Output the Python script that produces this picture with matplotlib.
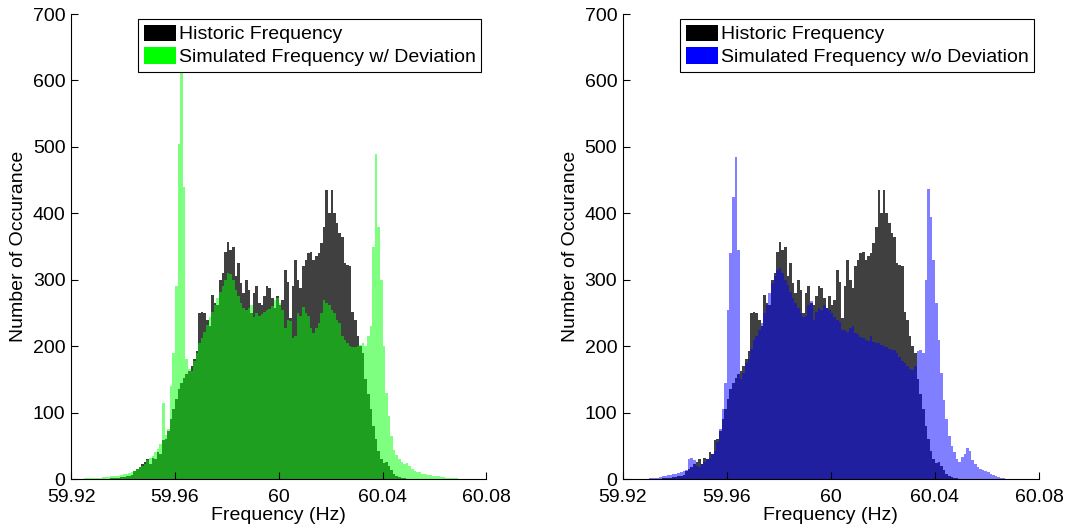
#!/usr/bin/env python3

import numpy as np
import matplotlib
matplotlib.use("Agg")
import matplotlib.pyplot as plt
from matplotlib.patches import Patch

plt.rcParams['font.family'] = ['Liberation Sans', 'DejaVu Sans']
plt.rcParams['font.size'] = 14

# histogram counts, 1 mHz bins starting at 59.925 Hz
bin_start = 59.925
bin_width = 0.001

historic = [
    0, 0, 0, 0, 0, 0, 0, 0, 0, 0,
    1, 1, 2, 2, 3,
    3, 4, 5, 6, 12, 15, 18, 22, 25, 30,
    22, 32, 30, 40, 38, 58, 60, 72, 90, 105,
    120, 135, 145, 152, 158, 162, 170, 180, 192, 250,
    252, 250, 240, 230, 277, 265, 262, 300, 310, 342,
    357, 345, 350, 305, 325, 295, 280, 300, 285, 250,
    280, 290, 265, 262, 275, 290, 288, 272, 257, 276,
    262, 270, 315, 296, 242, 290, 330, 300, 288, 320,
    330, 340, 342, 330, 335, 340, 355, 380, 435, 400,
    435, 400, 385, 370, 365, 325, 322, 320, 252, 240,
    215, 200, 190, 150, 128, 105, 80, 60, 42, 30,
    24, 26, 20, 14, 8, 5, 3, 2, 1, 0,
    0, 0, 0, 0, 0, 0, 0, 0, 0, 0,
    0, 0, 0, 0, 0, 0, 0, 0, 0, 0,
]

sim_dev = [
    1, 1, 1, 2, 2, 2, 2, 3, 3, 3,
    4, 4, 5, 5, 6,
    7, 8, 9, 10, 12, 15, 18, 20, 22, 28,
    32, 35, 40, 45, 52, 115, 66, 75, 140, 190,
    290, 505, 640, 440, 180, 165, 162, 178, 190, 205,
    212, 222, 232, 244, 252, 262, 272, 282, 290, 300,
    310, 308, 300, 285, 275, 265, 258, 255, 258, 262,
    244, 250, 245, 248, 252, 254, 256, 260, 270, 272,
    265, 255, 227, 240, 238, 212, 215, 250, 245, 259,
    250, 245, 227, 220, 228, 235, 250, 270, 265, 262,
    255, 250, 240, 235, 215, 209, 205, 200, 199, 198,
    200, 202, 205, 200, 215, 230, 350, 490, 380, 300,
    200, 130, 95, 64, 44, 36, 30, 25, 22, 24,
    20, 15, 12, 10, 10, 8, 7, 6, 6, 5,
    5, 4, 3, 3, 2, 2, 2, 1, 1, 0,
]

sim_nodev = [
    0, 0, 0, 0, 0, 1, 1, 2, 2, 3,
    4, 5, 6, 6, 7,
    8, 9, 10, 12, 14, 30, 32, 28, 20, 18,
    22, 25, 30, 32, 38, 42, 55, 75, 105, 145,
    255, 340, 425, 485, 345, 150, 160, 175, 180, 195,
    209, 215, 224, 235, 250, 262, 280, 295, 305, 315,
    318, 310, 300, 292, 282, 272, 265, 258, 250, 244,
    245, 262, 268, 240, 252, 258, 255, 262, 258, 255,
    250, 244, 240, 236, 224, 225, 222, 228, 230, 220,
    218, 214, 212, 210, 208, 215, 206, 205, 204, 202,
    200, 199, 196, 194, 194, 190, 184, 178, 175, 170,
    166, 164, 170, 192, 194, 189, 300, 437, 395, 330,
    265, 210, 160, 119, 90, 64, 50, 40, 30, 25,
    33, 38, 46, 42, 28, 22, 18, 15, 14, 12,
    10, 8, 6, 4, 3, 2, 1, 0, 0, 0,
]

xticks = [59.92, 59.96, 60.0, 60.04, 60.08]
xticklabels = ["59.92", "59.96", "60", "60.04", "60.08"]
yticks = [0, 100, 200, 300, 400, 500, 600, 700]

edges = bin_start + bin_width * np.arange(len(historic) + 1)

fig = plt.figure(figsize=(10.7, 5.29), dpi=100)
ax1 = fig.add_axes([0.0665, 0.0945, 0.388, 0.879])
ax2 = fig.add_axes([0.582, 0.0945, 0.389, 0.879])

panels = [
    (ax1, sim_dev, '#00ff00', "Simulated Frequency w/ Deviation"),
    (ax2, sim_nodev, '#0000ff', "Simulated Frequency w/o Deviation"),
]

for ax, sim, col, lab in panels:
    # historic counts underneath, simulated counts half-transparent on top
    ax.stairs(historic, edges, fill=True, color='k', alpha=0.75, linewidth=0)
    ax.stairs(sim, edges, fill=True, color=col, alpha=0.5, linewidth=0)

    ax.set_xlim(59.92, 60.08)
    ax.set_ylim(0, 700)
    ax.set_xticks(xticks)
    ax.set_xticklabels(xticklabels)
    ax.set_yticks(yticks)
    ax.tick_params(direction='in', length=5, width=0.8, labelsize=14)
    ax.tick_params(axis='x', pad=7.5)
    ax.tick_params(axis='y', pad=4)
    ax.spines['top'].set_visible(False)
    ax.spines['right'].set_visible(False)
    ax.set_xlabel("Frequency (Hz)", fontsize=14, labelpad=0.5)
    ax.set_ylabel("Number of Occurance", fontsize=14)

    handles = [Patch(facecolor='k', edgecolor='none'),
               Patch(facecolor=col, edgecolor='none')]
    leg = ax.legend(handles, ["Historic Frequency", lab], loc='upper right',
                    bbox_to_anchor=(1.0, 1.0), borderaxespad=0.25,
                    fancybox=False, framealpha=1, edgecolor='k',
                    fontsize=14, handlelength=1.65, handleheight=0.9,
                    handletextpad=0.15, labelspacing=0.2, borderpad=0.3)
    leg.get_frame().set_linewidth(0.8)
    leg.set_zorder(5)

fig.savefig("out.png", dpi=100)
